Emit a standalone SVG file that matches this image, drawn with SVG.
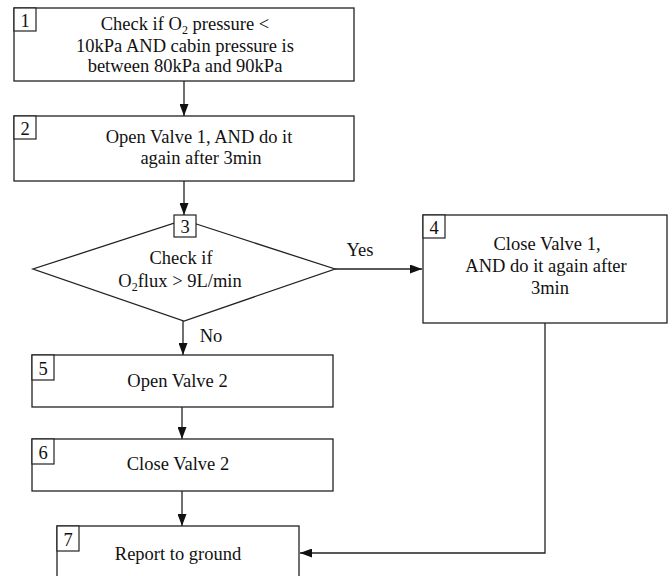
<svg xmlns="http://www.w3.org/2000/svg" width="672" height="576" viewBox="0 0 672 576">
  <defs>
    <marker id="arrow" markerUnits="userSpaceOnUse" markerWidth="12" markerHeight="9" refX="12" refY="4.5" orient="auto">
      <path d="M0,0 L12,4.5 L0,9 z" fill="#111"/>
    </marker>
    <style>
      .shape { fill: #fff; stroke: #222; stroke-width: 1.3; }
      .tag { fill: #fff; stroke: #222; stroke-width: 1.2; }
      .txt { font-family: 'Liberation Serif', 'Times New Roman', Tinos, 'DejaVu Serif', serif; font-size: 18.5px; fill: #111; text-anchor: middle; }
      .sub { font-size: 12px; }
      .edge { fill: none; stroke: #222; stroke-width: 1.3; marker-end: url(#arrow); }
    </style>
  </defs>

  <rect width="672" height="576" fill="#fff"/>

  <!-- connectors -->
  <g id="connectors">
    <path class="edge" d="M184,81 V116"/>
    <path class="edge" d="M184,181 V215"/>
    <path class="edge" d="M335,269 H422"/>
    <path class="edge" d="M183,321 V355"/>
    <path class="edge" d="M182,407 V439"/>
    <path class="edge" d="M182,491 V526"/>
    <path class="edge" d="M545,323 V553 H300"/>
    <text class="txt" x="360" y="256">Yes</text>
    <text class="txt" x="211" y="342">No</text>
  </g>

  <!-- step 1 -->
  <g id="node1">
    <rect class="shape" x="14" y="8" width="340" height="73"/>
    <rect class="tag" x="14" y="8" width="22" height="23"/>
    <text class="txt" x="25" y="27">1</text>
    <text class="txt" x="185" y="30">Check if O<tspan class="sub" dy="4">2</tspan><tspan dy="-4"> pressure &lt;</tspan></text>
    <text class="txt" x="185" y="51.5">10kPa AND cabin pressure is</text>
    <text class="txt" x="185" y="72">between 80kPa and 90kPa</text>
  </g>

  <!-- step 2 -->
  <g id="node2">
    <rect class="shape" x="14" y="116" width="340" height="65"/>
    <rect class="tag" x="14" y="116" width="22" height="23"/>
    <text class="txt" x="25" y="135">2</text>
    <text class="txt" x="199" y="143">Open Valve 1, AND do it</text>
    <text class="txt" x="201" y="164">again after 3min</text>
  </g>

  <!-- step 3: decision -->
  <g id="node3">
    <path class="shape" d="M184,220 L335,269 L184,321 L33,269 z"/>
    <rect class="tag" x="174" y="215" width="22" height="22"/>
    <text class="txt" x="185" y="233">3</text>
    <text class="txt" x="181" y="264">Check if</text>
    <text class="txt" x="180" y="287">O<tspan class="sub" dy="4">2</tspan><tspan dy="-4">flux &gt; 9L/min</tspan></text>
  </g>

  <!-- step 4 -->
  <g id="node4">
    <rect class="shape" x="423" y="215" width="244" height="108"/>
    <rect class="tag" x="423" y="215" width="22" height="23"/>
    <text class="txt" x="434" y="234">4</text>
    <text class="txt" x="547" y="250">Close Valve 1,</text>
    <text class="txt" x="546" y="272">AND do it again after</text>
    <text class="txt" x="550" y="294">3min</text>
  </g>

  <!-- step 5 -->
  <g id="node5">
    <rect class="shape" x="32" y="355" width="301" height="52"/>
    <rect class="tag" x="32" y="355" width="22" height="25"/>
    <text class="txt" x="43" y="375">5</text>
    <text class="txt" x="177.5" y="387">Open Valve 2</text>
  </g>

  <!-- step 6 -->
  <g id="node6">
    <rect class="shape" x="32" y="439" width="301" height="52"/>
    <rect class="tag" x="32" y="439" width="22" height="25"/>
    <text class="txt" x="43" y="459">6</text>
    <text class="txt" x="178" y="470">Close Valve 2</text>
  </g>

  <!-- step 7 -->
  <g id="node7">
    <rect class="shape" x="57" y="526" width="242" height="70"/>
    <rect class="tag" x="57" y="526" width="22" height="25"/>
    <text class="txt" x="68" y="546">7</text>
    <text class="txt" x="178" y="560">Report to ground</text>
  </g>
</svg>
